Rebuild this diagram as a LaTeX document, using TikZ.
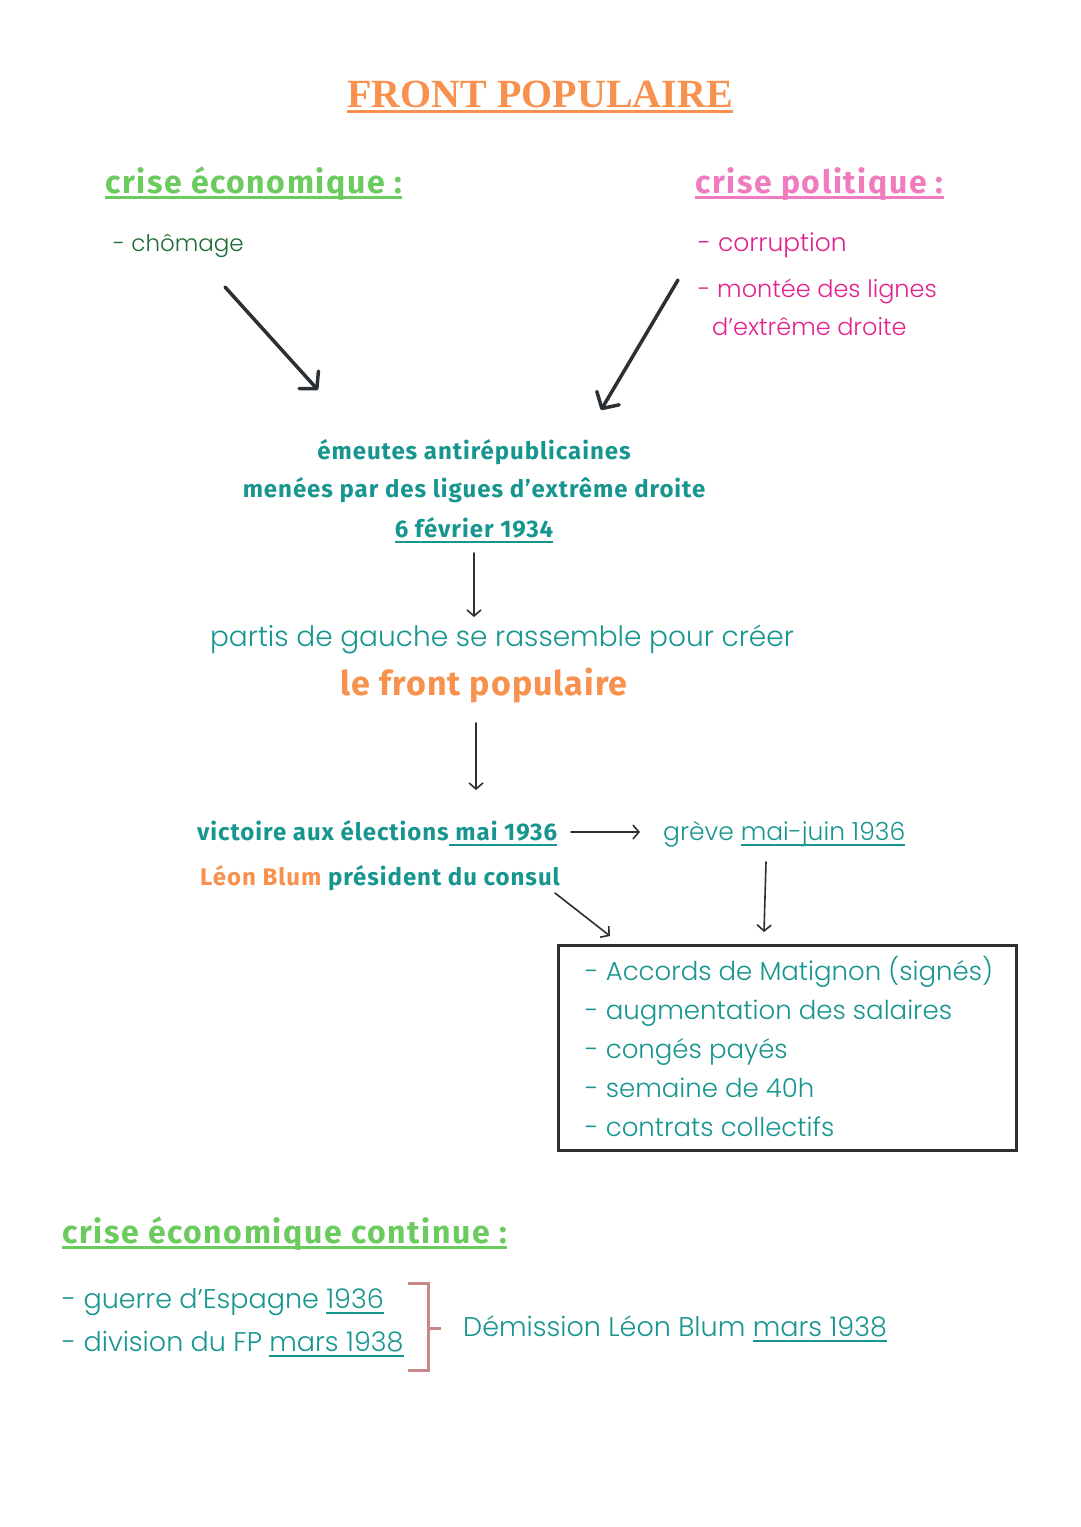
\documentclass[tikz,border=0pt]{standalone}
\usepackage{fontspec}
\usetikzlibrary{arrows.meta}
\setmainfont{Fira Sans}
\newfontfamily\titlef{Liberation Serif}
\IfFontExistsTF{Poppins Light}{\newfontfamily\hand{Poppins Light}}{\newfontfamily\hand{Open Sans}}
\definecolor{orangeT}{HTML}{F7914D}
\definecolor{greenH}{HTML}{6CCB5F}
\definecolor{greenD}{HTML}{1D6B35}
\definecolor{pinkH}{HTML}{F07BBE}
\definecolor{pinkT}{HTML}{E2238F}
\definecolor{tealT}{HTML}{17958F}
\definecolor{ink}{HTML}{2B3035}
\definecolor{bracketc}{HTML}{C9878A}
\newcommand\myul[2][2pt]{\leavevmode\setbox0\hbox{#2}\rlap{\rule[-6pt]{\wd0}{#1}}\box0}
\begin{document}
\begin{tikzpicture}[x=1pt,y=-1pt,
  hnd/.style={font=\hand\fontsize{#1}{30}\selectfont, inner sep=0pt, anchor=base west},
  hnd/.default=25,
  bld/.style={font=\bfseries\fontsize{24}{29}\selectfont\addfontfeature{LetterSpace=4}, inner sep=0pt, anchor=base west, text=tealT},
  head/.style={font=\bfseries\fontsize{32}{36}\selectfont\addfontfeature{LetterSpace=5}, inner sep=0pt, anchor=base west},
  bigarrow/.style={line width=3.5pt, draw=ink, line cap=round, -{Straight Barb[length=12pt,width=26pt,line cap=round,line join=round]}},
  smallarrow/.style={line width=1.6pt, draw=ink, line cap=round, -{Straight Barb[length=6pt,width=14pt]}}]
\fill[white] (0,0) rectangle (1080,1527);
\useasboundingbox (0,0) rectangle (1080,1527);

% title
\node[font=\titlef\bfseries\fontsize{40}{48}\selectfont, text=orangeT, inner sep=0pt, anchor=base] (title) at (540,107) {\myul[3pt]{FRONT POPULAIRE}};

% headings
\node[head, text=greenH] (ceco) at (105,193) {\myul[3pt]{crise économique :}};
\node[head, text=pinkH] (cpol) at (695,193) {\myul[3pt]{crise politique :}};

\node[hnd=23, text=greenD] (chom) at (113,251) {- chômage};
\node[hnd, text=pinkT] (corr) at (698,251) {- corruption};
\node[hnd=24, text=pinkT] (mont) at (698,297) {- montée des lignes};
\node[hnd=24, text=pinkT] (extr) at (712,335) {d’extrême droite};

% big arrows
\coordinate (a1s) at (225,287);
\coordinate (a1e) at (318,390);
\coordinate (a2s) at (678,280);
\coordinate (a2e) at (601,410);
\draw[bigarrow] (a1s) -- (a1e);
\draw[bigarrow] (a2s) -- (a2e);

% riots
\node[bld, anchor=base] (em1) at (474,459) {émeutes antirépublicaines};
\node[bld, anchor=base] (em2) at (474,497) {menées par des ligues d’extrême droite};
\node[bld, anchor=base] (em3) at (474,537) {\myul{6 février 1934}};

\coordinate (a3s) at (474,553);
\coordinate (a3e) at (474,617);
\draw[smallarrow] (a3s) -- (a3e);

\node[hnd=28, anchor=base, text=tealT] (part) at (502,646) {partis de gauche se rassemble pour créer};
\node[bld, anchor=base, font=\bfseries\fontsize{34}{38}\selectfont\addfontfeature{LetterSpace=3}, text=orangeT] (fp) at (484,695) {le front populaire};

\coordinate (a4s) at (476,723);
\coordinate (a4e) at (476,790);
\draw[smallarrow] (a4s) -- (a4e);

\node[bld] (vict) at (197,840) {victoire aux élections\myul{ mai 1936}};
\coordinate (a5s) at (571,832);
\coordinate (a5e) at (640,832);
\draw[smallarrow] (a5s) -- (a5e);
\node[hnd, text=tealT] (grev) at (663,840) {grève \myul{mai-juin 1936}};
\node[bld] (blum) at (200,885) {\textcolor{orangeT}{Léon Blum} président du consul};

\coordinate (a6s) at (555,893);
\coordinate (a6e) at (610,936);
\draw[smallarrow] (a6s) -- (a6e);
\coordinate (a7s) at (766,862);
\coordinate (a7e) at (764,932);
\draw[smallarrow] (a7s) -- (a7e);

% box
\node[draw=ink, line width=3pt, minimum width=458pt, minimum height=205pt, inner sep=0pt] (box) at (787,1047.5) {};
\node[hnd=26, text=tealT] (b1) at (585,980) {- Accords de Matignon (signés)};
\node[hnd=26, text=tealT] (b2) at (585,1019) {- augmentation des salaires};
\node[hnd=26, text=tealT] (b3) at (585,1058) {- congés payés};
\node[hnd=26, text=tealT] (b4) at (585,1097) {- semaine de 40h};
\node[hnd=26, text=tealT] (b5) at (585,1136) {- contrats collectifs};

% bottom
\node[head, text=greenH] (cont) at (62,1243) {\myul[3pt]{crise économique continue :}};
\node[hnd=27, text=tealT] (guer) at (62,1308) {- guerre d’Espagne \myul{1936}};
\node[hnd=27, text=tealT] (divi) at (62,1351) {- division du FP \myul{mars 1938}};
\node[hnd=27, text=tealT] (dem) at (463,1336) {Démission Léon Blum \myul{mars 1938}};

\coordinate (br1) at (408,1283);
\coordinate (br2) at (428,1283);
\coordinate (br3) at (428,1370);
\coordinate (br4) at (408,1370);
\coordinate (brm) at (428,1328);
\coordinate (brt) at (441,1328);
\draw[bracketc, line width=3pt] (br1) -- (br2) -- (br3) -- (br4);
\draw[bracketc, line width=3pt] (brm) -- (brt);
\end{tikzpicture}
\end{document}
